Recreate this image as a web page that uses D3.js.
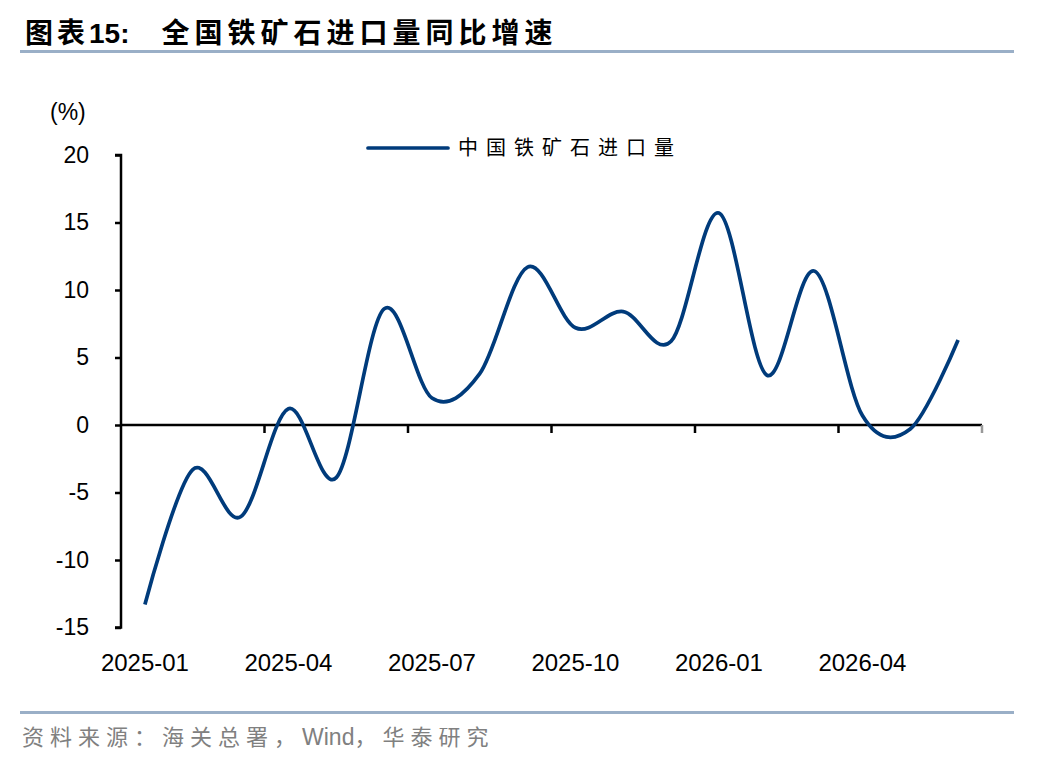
<!DOCTYPE html>
<html><head><meta charset="utf-8">
<script src="https://cdn.jsdelivr.net/npm/d3@7"></script>
<style>body{margin:0;background:#fff;} svg{display:block;}</style>
</head><body>
<svg id="c" width="1048" height="760"></svg>
<script>
const categories = ["2025-01","2025-02","2025-03","2025-04","2025-05","2025-06","2025-07","2025-08","2025-09","2025-10","2025-11","2025-12","2026-01","2026-02","2026-03","2026-04","2026-05","2026-06"];
const seriesName = "中国铁矿石进口量";
const values = [-13.3,-3.3,-6.8,1.2,-3.9,8.6,2.0,3.8,11.7,7.2,8.4,6.2,15.7,3.7,11.4,0.7,-0.3,6.3];
const yTicks = [20,15,10,5,0,-5,-10,-15];
const xLabels = ["2025-01","2025-04","2025-07","2025-10","2026-01","2026-04"];

const svg = d3.select("#c");
const pLeft = 121, pRight = 982, pTop = 155, pBottom = 627.5;
const x = d3.scaleBand().domain(categories).range([pLeft, pRight]).padding(0);
const y = d3.scaleLinear().domain([-15, 20]).range([pBottom, pTop]);
const fontLatin = "'Liberation Sans', Arial, sans-serif";
const fontCJK = "'Noto Sans CJK SC', sans-serif";

// title
const t = svg.append("text").attr("x", 25).attr("y", 43).attr("font-size", 28).attr("font-weight", "bold").attr("fill", "#000");
t.append("tspan").attr("font-family", fontCJK).attr("letter-spacing", 4).text("图表");
t.append("tspan").attr("font-family", fontLatin).attr("letter-spacing", 0).text("15:");
t.append("tspan").attr("font-family", fontCJK).attr("dx", 32).attr("letter-spacing", 5).text("全国铁矿石进口量同比增速");
svg.append("rect").attr("x", 20).attr("y", 50).attr("width", 994).attr("height", 3).attr("fill", "#9aafc7");
svg.append("rect").attr("x", 20).attr("y", 711).attr("width", 994).attr("height", 3).attr("fill", "#9aafc7");
const src = svg.append("text").attr("x", 22).attr("y", 745).attr("font-size", 22).attr("fill", "#808080").attr("font-family", fontCJK);
src.append("tspan").attr("letter-spacing", 6).text("资料来源：海关总署，");
src.append("tspan").attr("font-family", fontLatin).attr("letter-spacing", 0).attr("font-size", 23).text("Wind");
src.append("tspan").attr("letter-spacing", 6).text("，华泰研究");

// y axis
const yAxis = d3.axisLeft(y).tickValues(yTicks).tickSize(6).tickPadding(26).tickFormat(d => String(d));
const gy = svg.append("g").attr("transform", `translate(${pLeft},0)`).call(yAxis);
gy.select(".domain").attr("stroke", "#000").attr("stroke-width", 2.5).attr("d", `M-6,${pTop}H0V${pBottom}H-6`);
gy.selectAll(".tick line").attr("stroke", "#000").attr("stroke-width", 2.5);
gy.selectAll(".tick text").attr("font-family", fontLatin).attr("font-size", 23).attr("fill", "#000");
svg.append("text").attr("x", 50).attr("y", 120).attr("font-family", fontLatin).attr("font-size", 23).text("(%)");

// x axis at 0
const y0 = y(0);
const gx = svg.append("g").attr("transform", `translate(0,${y0})`);
gx.append("line").attr("x1", pLeft).attr("x2", pRight).attr("y1", 0).attr("y2", 0).attr("stroke", "#000").attr("stroke-width", 2.5);
const tickCats = categories.filter((d, i) => i % 3 === 0).slice(1);
gx.selectAll("line.tk").data(tickCats.concat(["__end"])).enter().append("line")
  .attr("x1", d => d === "__end" ? pRight : x(d)).attr("x2", d => d === "__end" ? pRight : x(d))
  .attr("y1", 0).attr("y2", 8).attr("stroke", d => d === "__end" ? "#999" : "#000").attr("stroke-width", 2.5);
svg.selectAll("text.xl").data(xLabels).enter().append("text")
  .attr("x", d => x(d) + x.bandwidth() / 2).attr("y", 671)
  .attr("text-anchor", "middle").attr("font-family", fontLatin).attr("font-size", 24).attr("fill", "#000").text(d => d);

// line
const line = d3.line().x((d, i) => x(categories[i]) + x.bandwidth() / 2).y(d => y(d)).curve(d3.curveCatmullRom.alpha(0));
svg.append("path").datum(values).attr("d", line).attr("fill", "none").attr("stroke", "#003b7b").attr("stroke-width", 3.7).attr("stroke-linecap", "butt");

// legend
svg.append("line").attr("x1", 368).attr("x2", 448).attr("y1", 148).attr("y2", 148).attr("stroke", "#003b7b").attr("stroke-width", 3.7).attr("stroke-linecap", "round");
svg.append("text").attr("x", 458).attr("y", 155).attr("font-family", fontCJK).attr("font-size", 20).attr("letter-spacing", 8).attr("fill", "#000").text(seriesName);
</script>
</body></html>
